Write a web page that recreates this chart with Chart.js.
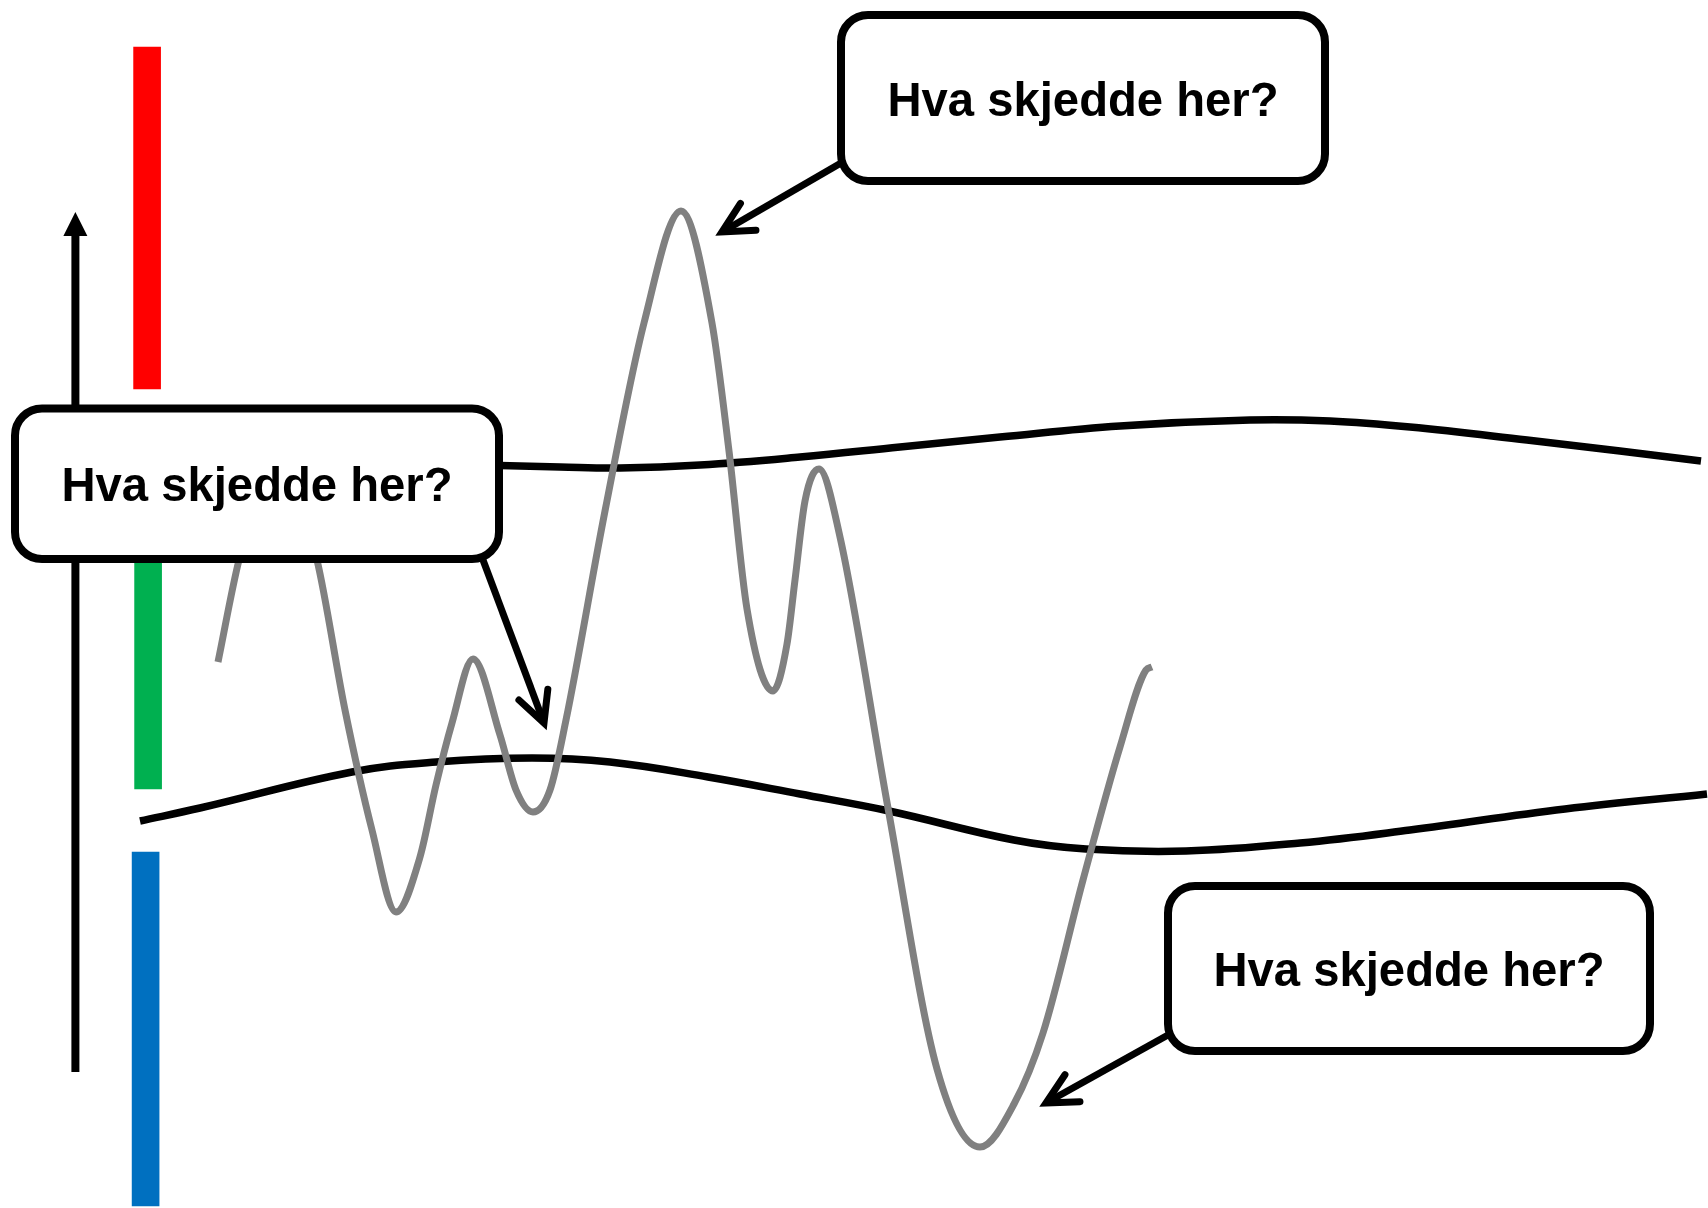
<!DOCTYPE html>
<html>
<head>
<meta charset="utf-8">
<script src="https://cdn.jsdelivr.net/npm/chart.js@4.4.1/dist/chart.umd.min.js"></script>
<style>
html,body{margin:0;padding:0;background:#fff;}
#wrap{width:1708px;height:1208px;position:relative;}
</style>
</head>
<body>
<div id="wrap"><canvas id="c"></canvas></div>
<script>
// ---- data (abstract units: x = time, y = level) ----
const signalX = [10.9,11.95,13.9,15.85,17.25,18.6,19.8,21.0,21.8,22.6,23.65,25.0,25.8,26.65,27.5,28.3,30.25,32.2,34.05,35.6,36.45,37.35,38.65,39.35,39.75,40.25,40.95,42.0,44.4,46.85,49.0,50.7,52.15,54.15,56.0,57.3,57.6];
const signalY = [54.6,64.8,76.8,64.8,49.8,37.8,29.6,35.1,42.3,48.5,54.9,47.3,41.8,39.6,41.8,48.8,69.7,88.5,99.7,88.5,75.7,59.9,51.7,56.4,62.8,70.7,73.9,67.1,40.0,13.9,6.1,10.4,17.5,32.8,46.1,53.8,54.1];

const upperX = [24.0,28.0,31.0,35.0,40.0,45.0,50.0,56.0,62.5,66.5,70.5,76.35,81.0,85.05];
const upperY = [74.3,74.1,74.0,74.3,75.1,76.1,77.1,78.2,78.8,78.7,78.1,76.8,75.7,74.7];

const lowerX = [7.0,10.0,17.6,21.8,26.6,30.5,35.4,40.0,44.45,50.7,54.3,59.3,65.0,70.5,78.25,85.35];
const lowerY = [38.7,40.0,43.6,44.6,45.0,44.6,43.1,41.4,39.7,36.8,35.9,35.7,36.5,37.8,39.9,41.4];

const barNames = ['rød','grønn','blå'];
const barX     = [7.355, 7.405, 7.28];
const barLow   = [81.9, 41.9, 0.2];
const barHigh  = [116.1, 79.8, 35.6];
const barColors = ['#FF0000','#00B050','#0070C0'];

const axisX = [3.77, 3.77];
const axisY = [13.6, 97.2];
const axisTipY = 99.6;

const calloutText = 'Hva skjedde her?';
const calloutBoxes = [[0.75,79.95,24.95,64.9],[42.05,119.3,66.25,102.7],[58.4,32.2,82.5,15.7]];
const arrowFrom = [[24.15,64.8],[42.05,104.5],[58.4,17.3]];
const arrowTo   = [[27.2,48.5],[36.1,97.6],[52.3,10.5]];

// ---- helpers ----
const pts = (xs, ys) => xs.map((x, i) => ({x: x, y: ys[i]}));

const calloutPlugin = {
  id: 'callouts',
  afterDatasetsDraw(chart) {
    const ctx = chart.ctx;
    const sx = chart.scales.x, sy = chart.scales.y;
    const px = v => sx.getPixelForValue(v);
    const py = v => sy.getPixelForValue(v);
    ctx.save();
    // axis arrow head
    const ax = px(axisX[1]), ay = py(axisTipY);
    ctx.fillStyle = '#000';
    ctx.beginPath();
    ctx.moveTo(ax, ay);
    ctx.lineTo(ax - 12, ay + 24);
    ctx.lineTo(ax + 12, ay + 24);
    ctx.closePath();
    ctx.fill();

    // arrows
    ctx.strokeStyle = '#000';
    ctx.lineWidth = 7;
    for (let i = 0; i < arrowFrom.length; i++) {
      const fx = px(arrowFrom[i][0]), fy = py(arrowFrom[i][1]);
      const tx = px(arrowTo[i][0]), ty = py(arrowTo[i][1]);
      const back = Math.atan2(fy - ty, fx - tx);
      const a = 27 * Math.PI / 180, L = 34;
      ctx.lineCap = 'butt';
      ctx.lineJoin = 'miter';
      ctx.beginPath();
      ctx.moveTo(fx, fy);
      ctx.lineTo(tx + Math.cos(back) * 5, ty + Math.sin(back) * 5);
      ctx.stroke();
      ctx.lineCap = 'round';
      ctx.beginPath();
      ctx.moveTo(tx + Math.cos(back + a) * L, ty + Math.sin(back + a) * L);
      ctx.lineTo(tx, ty);
      ctx.lineTo(tx + Math.cos(back - a) * L, ty + Math.sin(back - a) * L);
      ctx.stroke();
    }

    // boxes
    const targetW = 391;
    for (const b of calloutBoxes) {
      const x1 = px(b[0]), y1 = py(b[1]), x2 = px(b[2]), y2 = py(b[3]);
      const r = 27;
      ctx.beginPath();
      ctx.moveTo(x1 + r, y1);
      ctx.lineTo(x2 - r, y1);
      ctx.arcTo(x2, y1, x2, y1 + r, r);
      ctx.lineTo(x2, y2 - r);
      ctx.arcTo(x2, y2, x2 - r, y2, r);
      ctx.lineTo(x1 + r, y2);
      ctx.arcTo(x1, y2, x1, y2 - r, r);
      ctx.lineTo(x1, y1 + r);
      ctx.arcTo(x1, y1, x1 + r, y1, r);
      ctx.closePath();
      ctx.fillStyle = '#fff';
      ctx.fill();
      ctx.lineWidth = 8;
      ctx.lineJoin = 'round';
      ctx.strokeStyle = '#000';
      ctx.stroke();
      ctx.fillStyle = '#000';
      ctx.font = 'bold 49px "Liberation Sans", Arial, sans-serif';
      ctx.textAlign = 'center';
      ctx.textBaseline = 'alphabetic';
      const w = ctx.measureText(calloutText).width;
      const k = Math.min(1, targetW / w);
      ctx.save();
      ctx.translate((x1 + x2) / 2, (y1 + y2) / 2 + 17.5);
      ctx.scale(k, 1);
      ctx.fillText(calloutText, 0, 0);
      ctx.restore();
    }
    ctx.restore();
  }
};

new Chart(document.getElementById('c'), {
  type: 'line',
  data: {
    datasets: [
      {
        label: 'signal',
        data: pts(signalX, signalY),
        borderColor: '#808080',
        borderWidth: 7,
        pointRadius: 0,
        cubicInterpolationMode: 'monotone',
        fill: false,
        order: 0
      },
      {
        label: 'øvre',
        data: pts(upperX, upperY),
        borderColor: '#000',
        borderWidth: 7.5,
        pointRadius: 0,
        tension: 0.4,
        fill: false,
        order: 1
      },
      {
        label: 'nedre',
        data: pts(lowerX, lowerY),
        borderColor: '#000',
        borderWidth: 7.5,
        pointRadius: 0,
        tension: 0.4,
        fill: false,
        order: 1
      },
      {
        type: 'bar',
        label: 'nivåer',
        data: barX.map((x, i) => ({x: x, y: [barLow[i], barHigh[i]]})),
        backgroundColor: barColors,
        borderWidth: 0,
        barThickness: 27,
        order: 2
      },
      {
        label: 'akse',
        data: pts(axisX, axisY),
        borderColor: '#000',
        borderWidth: 8,
        pointRadius: 0,
        tension: 0,
        fill: false,
        order: 3
      }
    ]
  },
  options: {
    responsive: true,
    maintainAspectRatio: false,
    devicePixelRatio: 1,
    animation: false,
    layout: { padding: 0 },
    scales: {
      x: { type: 'linear', min: 0, max: 85.4, display: false, offset: false },
      y: { type: 'linear', min: 0, max: 120.8, display: false }
    },
    plugins: {
      legend: { display: false },
      tooltip: { enabled: false }
    }
  },
  plugins: [calloutPlugin]
});
</script>
</body>
</html>
